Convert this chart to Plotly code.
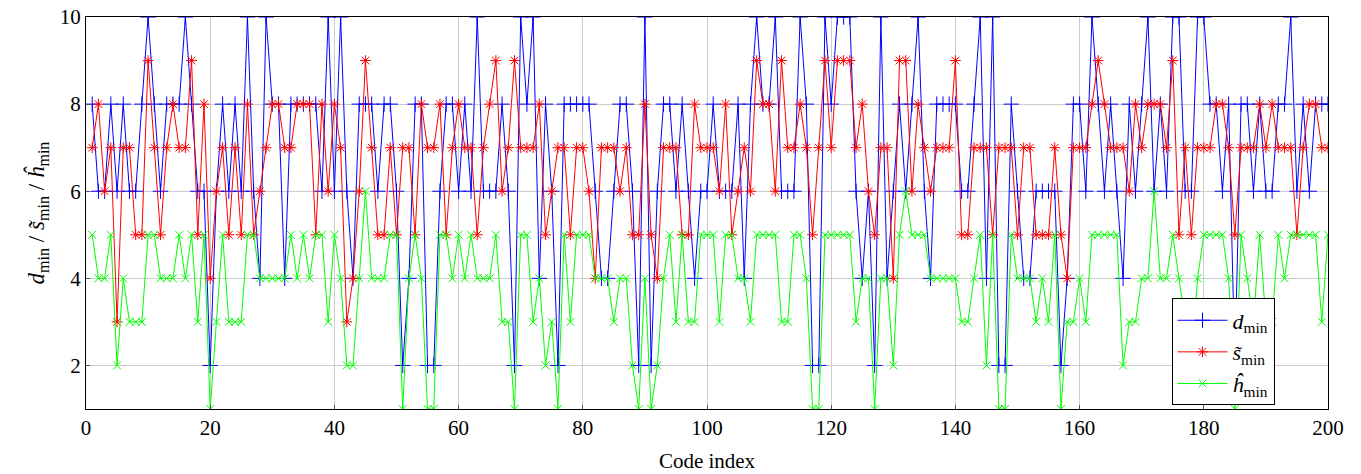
import plotly.graph_objects as go

code_index = list(range(1, 201))

d_min = [8,6,6,8,6,8,6,6,8,10, 8,6,8,8,8,10,8,6,6,2,
         6,8,6,8,6,10,6,4,10,8, 8,4,8,8,8,8,8,6,10,6,
         10,6,4,8,8,8,6,8,8,6, 2,4,8,8,2,2,6,8,8,6,
         8,6,10,6,6,6,8,6,2,10, 8,10,4,8,6,2,8,8,8,8,
         8,6,4,4,6,8,8,6,2,10, 2,6,8,8,6,8,6,4,6,6,
         8,6,6,6,8,4,8,10,8,8, 10,6,6,6,10,8,2,2,10,8,
         10,10,10,6,4,6,2,10,4,6, 8,6,8,10,6,4,8,8,8,8,
         6,6,8,10,4,10,2,2,8,6, 4,4,6,6,6,6,2,4,8,8,
         6,10,8,6,8,6,4,8,6,8, 10,6,8,6,10,10,6,6,10,10,
         8,8,6,8,2,8,8,6,8,6, 6,8,8,10,6,8,6,8,8,8]

s_min = [7,8,6,7,3,7,7,5,5,9, 7,5,7,8,7,7,9,5,8,4,
         6,7,5,7,5,8,5,6,7,8, 8,7,7,8,8,8,5,8,6,8,
         7,3,4,6,9,7,5,5,7,5, 7,7,5,8,7,7,8,5,7,8,
         7,7,5,7,8,9,6,7,9,7, 7,7,8,5,6,7,7,5,7,7,
         6,4,7,7,7,6,7,5,5,8, 5,4,7,7,7,5,5,8,7,7,
         7,6,8,5,6,7,6,9,8,8, 6,9,7,7,8,7,5,7,9,7,
         9,9,9,7,8,6,5,7,7,4, 9,9,6,8,7,6,7,7,7,9,
         5,5,7,7,7,5,7,7,7,5, 7,7,5,5,5,7,5,4,7,7,
         7,8,9,8,7,7,7,6,8,7, 8,8,8,7,9,5,7,5,7,7,
         7,8,8,7,5,7,7,7,8,7, 8,7,7,7,5,7,8,8,7,7]

h_min = [5,4,4,5,2,4,3,3,3,5, 5,4,4,4,5,4,5,3,5,1,
         3,5,3,3,3,5,5,4,4,4, 4,4,5,4,5,4,5,5,3,5,
         4,2,2,4,6,4,4,4,5,5, 1,4,5,4,1,1,5,5,4,5,
         4,5,4,4,4,5,3,3,1,5, 5,3,4,2,3,1,5,3,5,5,
         5,4,4,4,3,4,4,2,1,4, 1,2,4,5,3,5,3,3,5,5,
         5,3,5,5,4,4,3,5,5,5, 5,3,3,5,5,4,1,1,5,5,
         5,5,5,3,4,4,1,4,4,2, 5,6,5,5,5,4,4,4,4,4,
         3,3,4,5,2,5,1,1,5,4, 4,4,3,4,3,5,1,3,3,4,
         3,5,5,5,5,5,2,3,3,4, 4,6,4,4,5,4,3,2,4,5,
         5,5,5,4,1,5,4,3,5,3, 3,5,4,5,5,5,5,5,3,5]

x_ticks = [0, 20, 40, 60, 80, 100, 120, 140, 160, 180, 200]
y_ticks = [2, 4, 6, 8, 10]

FONT = "Liberation Serif"

fig = go.Figure()
fig.add_trace(go.Scatter(
    x=code_index, y=d_min, mode="lines+markers",
    name="<i>d</i><sub>min</sub>",
    line=dict(color="#0000ff", width=1),
    marker=dict(symbol="cross-thin", size=11, line=dict(color="#0000ff", width=1), color="#0000ff"),
))
fig.add_trace(go.Scatter(
    x=code_index, y=s_min, mode="lines+markers",
    name="<i>s\u0303</i><sub>min</sub>",
    line=dict(color="#ff0000", width=1),
    marker=dict(symbol="asterisk-open", size=9, line=dict(color="#ff0000", width=1), color="#ff0000"),
))
fig.add_trace(go.Scatter(
    x=code_index, y=h_min, mode="lines+markers",
    name="<i>\u0125</i><sub>min</sub>",
    line=dict(color="#00ff00", width=1),
    marker=dict(symbol="x-thin-open", size=8, line=dict(color="#00ff00", width=1), color="#00ff00"),
))

axis_common = dict(
    showgrid=True, gridcolor="#cccccc", gridwidth=1,
    showline=True, linecolor="black", linewidth=1.2, mirror=True,
    ticks="inside", ticklen=4, tickcolor="#555555",
    tickfont=dict(family=FONT, size=21, color="black"),
    zeroline=False, automargin=False, ticklabeloverflow="allow",
)

fig.update_layout(
    width=1361, height=474,
    margin=dict(l=78, r=41, t=9, b=73),
    paper_bgcolor="white", plot_bgcolor="white",
    font=dict(family=FONT, color="black"),
    xaxis=dict(range=[0, 200], tickvals=x_ticks,
               title=dict(text="Code index", font=dict(family=FONT, size=21), standoff=14),
               **axis_common),
    yaxis=dict(range=[1, 10], tickvals=y_ticks,
               title=dict(text="<i>d</i><sub>min</sub> / <i>s\u0303</i><sub>min</sub> / <i>\u0125</i><sub>min</sub>",
                          font=dict(family=FONT, size=23), standoff=8),
               **axis_common),
    legend=dict(x=0.874, y=0.282, xanchor="left", yanchor="top",
                bgcolor="white", bordercolor="black", borderwidth=1,
                font=dict(family=FONT, size=22), itemwidth=50, tracegroupgap=0),
    showlegend=True,
)

fig.write_html("out.html")
